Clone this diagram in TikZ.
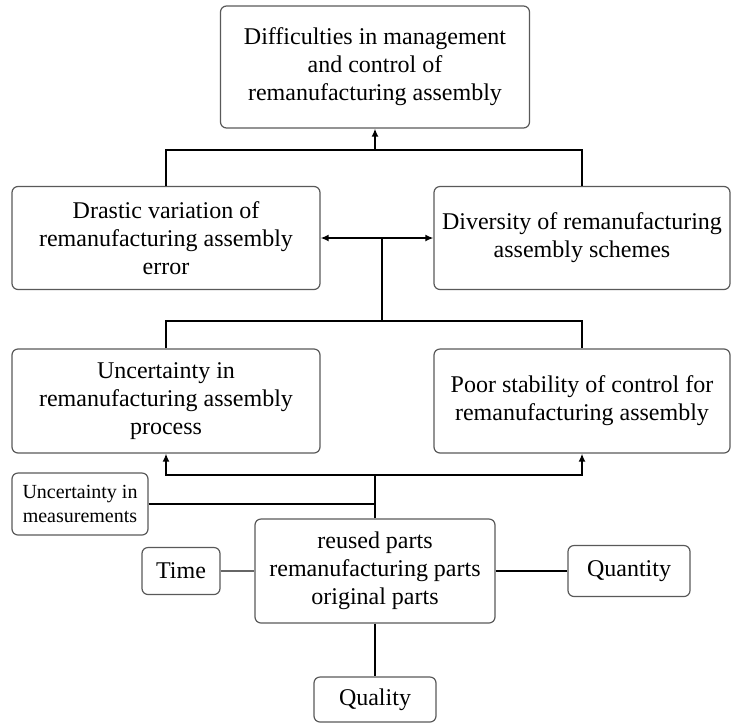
\documentclass[tikz,border=0pt]{standalone}
\usepackage{fontspec}
\setmainfont{Liberation Serif}
\usepackage{tikz}
\usetikzlibrary{arrows.meta, positioning, calc}

\begin{document}
\begin{tikzpicture}[x=0.5pt, y=-0.5pt,
  box/.style={draw=black!65, line width=0.6pt, rounded corners=3pt, align=center, inner sep=2pt, font=\fontsize{12}{14}\selectfont},
  link/.style={line width=0.8pt},
  up/.style={link, -{Latex[length=4pt, width=3.5pt]}}]
  \useasboundingbox (0,0) rectangle (732,724);

  \node[box, minimum width=154.5pt, minimum height=61pt] (top) at (375,67) {Difficulties in management\\and control of\\remanufacturing assembly};

  \node[box, minimum width=154pt, minimum height=51.5pt] (drastic) at (166,238) {Drastic variation of\\remanufacturing assembly\\error};
  \node[box, minimum width=148pt, minimum height=51.5pt] (diversity) at (582,238) {Diversity of remanufacturing\\assembly schemes};

  \node[box, minimum width=154pt, minimum height=52pt] (uncert) at (166,401) {Uncertainty in\\remanufacturing assembly\\process};
  \node[box, minimum width=148pt, minimum height=52pt] (poor) at (582,401) {Poor stability of control for\\remanufacturing assembly};

  \node[box, minimum width=68pt, minimum height=31pt, font=\fontsize{10}{12}\selectfont] (meas) at (80,504) {Uncertainty in\\measurements};
  \node[box, minimum width=120pt, minimum height=52pt] (parts) at (375,571) {reused parts\\remanufacturing parts\\original parts};
  \node[box, minimum width=39pt, minimum height=23.5pt] (time) at (181,571) {Time};
  \node[box, minimum width=61pt, minimum height=25.5pt] (qty) at (629,571) {Quantity};
  \node[box, minimum width=61pt, minimum height=22.5pt] (qual) at (375,699.5) {Quality};

  \coordinate (j1) at (375,150);
  \draw[link] (drastic.north) |- (j1) -| (diversity.north);
  \draw[up] (j1) -- (top.south);

  \draw[link, {Latex[length=4pt, width=3.5pt]}-{Latex[length=4pt, width=3.5pt]}] (drastic.east) -- (diversity.west);
  \coordinate (j2) at (382,238);
  \coordinate (j3) at (382,321);
  \draw[link] (j2) -- (j3);
  \draw[link] (uncert.north) |- (j3) -| (poor.north);

  \coordinate (j4) at (375,475);
  \draw[up] (j4) -| (uncert.south);
  \draw[up] (j4) -| (poor.south);
  \draw[link] (parts.north) -- (j4);
  \draw[line width=0.6pt] (meas.east) -- (meas.east -| parts.north);

  \draw[line width=0.6pt, black!60] (time.east) -- (parts.west);
  \draw[line width=0.6pt] (parts.east) -- (qty.west);
  \draw[line width=0.6pt] (parts.south) -- (qual.north);
\end{tikzpicture}
\end{document}
